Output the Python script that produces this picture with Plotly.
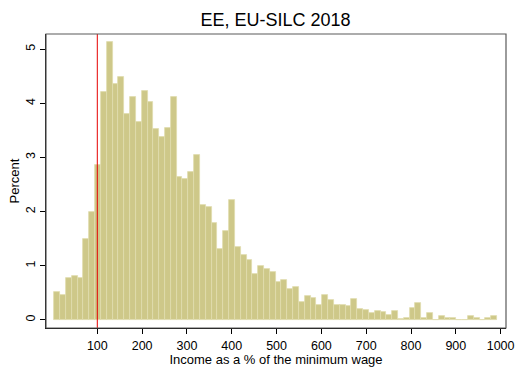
import plotly.graph_objects as go

# Histogram of income relative to the minimum wage (percent of observations per bin)
bin_start = 4.0
bin_width = 13.0
percent = [
    0.51, 0.47, 0.78, 0.81, 0.78, 1.49, 2.00, 2.86, 4.21, 5.13,
    4.36, 4.48, 3.80, 4.11, 3.65, 4.23, 4.02, 3.52, 3.38, 3.54,
    4.11, 2.64, 2.60, 2.73, 3.04, 2.12, 2.08, 1.79, 1.31, 1.65,
    2.21, 1.34, 1.20, 1.10, 0.85, 0.99, 0.95, 0.88, 0.70, 0.73,
    0.57, 0.60, 0.33, 0.45, 0.40, 0.27, 0.47, 0.36, 0.28, 0.28,
    0.25, 0.38, 0.21, 0.19, 0.12, 0.17, 0.155, 0.10, 0.17, 0.025,
    0.044, 0.23, 0.32, 0.044, 0.12, 0.0, 0.068, 0.044, 0.044, 0.006,
    0.0, 0.08, 0.044, 0.0, 0.044, 0.068,
]
x_ticks = [100, 200, 300, 400, 500, 600, 700, 800, 900, 1000]
y_ticks = [0, 1, 2, 3, 4, 5]
min_wage_line = 100

centers = [bin_start + bin_width * (i + 0.5) for i in range(len(percent))]

FONT = "Liberation Sans, Arial, Helvetica, sans-serif"

fig = go.Figure(
    go.Bar(
        x=centers,
        y=percent,
        width=bin_width,
        marker=dict(color="rgb(206,200,137)",
                    line=dict(color="rgb(224,220,174)", width=0.8)),
        hoverinfo="skip",
    )
)

fig.add_shape(type="line", xref="x", yref="paper",
              x0=min_wage_line, x1=min_wage_line, y0=0, y1=1,
              line=dict(color="rgb(230,0,0)", width=1))
fig.add_shape(type="rect", xref="paper", yref="paper",
              x0=0, x1=1, y0=0, y1=1,
              line=dict(color="rgb(90,90,90)", width=1.2))

fig.update_layout(
    width=515, height=367,
    margin=dict(l=46, r=9, t=34, b=39, autoexpand=False),
    paper_bgcolor="white", plot_bgcolor="white",
    showlegend=False,
    font=dict(family=FONT, color="black", size=12),
    title=dict(text="EE, EU-SILC 2018", x=0.535, xanchor="center",
               y=0.945, yanchor="middle",
               font=dict(family=FONT, size=18, color="black")),
    bargap=0,
)
fig.update_xaxes(
    range=[-14.5, 1012], tickvals=x_ticks, ticks="outside", ticklen=5,
    tickcolor="black", showgrid=False, zeroline=False, automargin=False,
    showline=True, linecolor="black", linewidth=1,
    tickfont=dict(size=12.5), ticklabelstandoff=1,
    title=dict(text="Income as a % of the minimum wage", standoff=2,
               font=dict(size=13)),
)
fig.update_yaxes(
    range=[-0.148, 5.28], tickvals=y_ticks, ticks="outside", ticklen=5,
    tickcolor="black", showgrid=False, zeroline=False, tickangle=-90,
    automargin=False,
    showline=True, linecolor="black", linewidth=1,
    tickfont=dict(size=12.5),
    title=dict(text="Percent", standoff=1, font=dict(size=13)),
)

fig.write_html("out.html")
